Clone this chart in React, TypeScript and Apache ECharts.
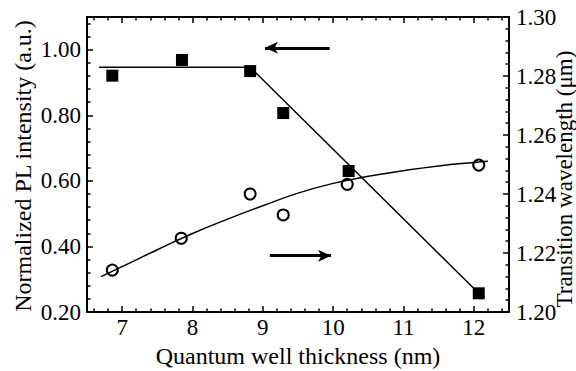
import React, { useEffect, useRef } from "react";
import * as echarts from "echarts";

// ---- data ----
const xTickLabels = [7, 8, 9, 10, 11, 12];
const leftTickLabels = [0.2, 0.4, 0.6, 0.8, 1.0];
const rightTickLabels = [1.2, 1.22, 1.24, 1.26, 1.28, 1.3];

// PL intensity (left axis) - filled squares
const squareX = [6.86, 7.85, 8.82, 9.29, 10.22, 12.07];
const squareY = [0.921, 0.969, 0.935, 0.807, 0.63, 0.257];
// piecewise fit for the squares
const squareFitX = [6.67, 8.82, 12.07];
const squareFitY = [0.947, 0.947, 0.257];

// transition wavelength (right axis) - open circles
const circleX = [6.86, 7.84, 8.82, 9.29, 10.2, 12.07];
const circleY = [1.2142, 1.225, 1.24, 1.2329, 1.2433, 1.2498];
// smooth fit curve for the circles
const circleFitX = [6.7, 7.0, 7.5, 8.0, 8.5, 9.0, 9.5, 10.0, 10.5, 11.0, 11.5, 12.0, 12.2];
const circleFitY = [1.212, 1.2154, 1.2211, 1.2266, 1.2315, 1.236, 1.2403, 1.2436, 1.246, 1.2479, 1.2495, 1.2507, 1.2511];

// arrows (data coordinates)
const leftArrow = { from: [9.95, 1.006], to: [9.03, 1.006] };
const rightArrow = { from: [9.1, 1.2191], to: [9.97, 1.2191] };

const X_MIN = 6.5, X_MAX = 12.5;
const L_MIN = 0.2, L_MAX = 1.1;
const R_MIN = 1.2, R_MAX = 1.3;

function steps(a: number, b: number, s: number, skip: number[]): number[] {
  const out: number[] = [];
  const n = Math.round((b - a) / s);
  for (let i = 0; i <= n; i++) {
    const v = +(a + i * s).toFixed(6);
    if (!skip.some((k) => Math.abs(k - v) < 1e-6)) out.push(v);
  }
  return out;
}

const FONT = "'Liberation Serif', 'Times New Roman', serif";

export default function App() {
  const ref = useRef<HTMLDivElement>(null);
  useEffect(() => {
    if (!ref.current) return;
    const chart = echarts.init(ref.current, null, { renderer: "svg" });
    const black = "#000";
    const xMinor = steps(6.6, 12.4, 0.2, xTickLabels);
    const lMinor = steps(0.24, 1.08, 0.04, leftTickLabels);
    const rMinor = steps(1.204, 1.296, 0.004, rightTickLabels);

    const majorTick = { show: true, inside: true, length: 6, lineStyle: { color: black, width: 1.5 } };
    const minorTick = { show: true, inside: true, length: 3.5, lineStyle: { color: black, width: 1.5 } };
    const line = { show: true, lineStyle: { color: black, width: 2 } };

    const xBase = { type: "value", min: X_MIN, max: X_MAX, splitLine: { show: false } };
    const lBase = { type: "value", min: L_MIN, max: L_MAX, splitLine: { show: false } };
    const rBase = { type: "value", min: R_MIN, max: R_MAX, splitLine: { show: false } };

    chart.setOption({
      animation: false,
      backgroundColor: "#fff",
      grid: { left: 87, right: 67, top: 17, bottom: 59, containLabel: false, outerBoundsMode: "none" },
      xAxis: [
        {
          ...xBase,
          position: "bottom",
          axisLine: line,
          axisTick: { ...majorTick, customValues: xTickLabels },
          axisLabel: {
            customValues: xTickLabels,
            formatter: (v: number) => String(v),
            color: black, fontFamily: FONT, fontSize: 23, margin: 4,
          },
          name: "Quantum well thickness (nm)",
          nameLocation: "middle",
          nameGap: 31,
          nameTextStyle: { color: black, fontFamily: FONT, fontSize: 24 },
        },
        {
          ...xBase,
          position: "bottom",
          axisLine: { show: false },
          axisTick: { ...minorTick, customValues: xMinor },
          axisLabel: { show: false },
        },
        {
          ...xBase,
          position: "top",
          axisLine: line,
          axisTick: { ...majorTick, customValues: xTickLabels },
          axisLabel: { show: false },
        },
        {
          ...xBase,
          position: "top",
          axisLine: { show: false },
          axisTick: { ...minorTick, customValues: xMinor },
          axisLabel: { show: false },
        },
      ],
      yAxis: [
        {
          ...lBase,
          position: "left",
          axisLine: line,
          axisTick: { ...majorTick, customValues: leftTickLabels },
          axisLabel: {
            customValues: leftTickLabels,
            formatter: (v: number) => v.toFixed(2),
            color: black, fontFamily: FONT, fontSize: 23, margin: 6,
          },
        },
        {
          ...rBase,
          position: "right",
          axisLine: line,
          axisTick: { ...majorTick, customValues: rightTickLabels },
          axisLabel: {
            customValues: rightTickLabels,
            formatter: (v: number) => v.toFixed(2),
            color: black, fontFamily: FONT, fontSize: 23, margin: 7,
          },
        },
        {
          ...lBase,
          position: "left",
          axisLine: { show: false },
          axisTick: { ...minorTick, customValues: lMinor },
          axisLabel: { show: false },
        },
        {
          ...rBase,
          position: "right",
          axisLine: { show: false },
          axisTick: { ...minorTick, customValues: rMinor },
          axisLabel: { show: false },
        },
      ],
      graphic: [
        {
          type: "text",
          x: 23,
          y: 166,
          rotation: Math.PI / 2,
          style: {
            text: "Normalized PL intensity (a.u.)",
            fill: black,
            font: `24px ${FONT}`,
            textAlign: "center",
            textVerticalAlign: "middle",
          },
        },
        {
          type: "text",
          x: 564.5,
          y: 179,
          rotation: Math.PI / 2,
          style: {
            text: "Transition wavelength (\u03bcm)",
            fill: black,
            font: `23px ${FONT}`,
            textAlign: "center",
            textVerticalAlign: "middle",
          },
        },
      ],
      series: [
        {
          type: "line",
          xAxisIndex: 0,
          yAxisIndex: 0,
          data: squareFitX.map((x, i) => [x, squareFitY[i]]),
          showSymbol: false,
          symbol: "none",
          lineStyle: { color: black, width: 1.5 },
          silent: true,
          markLine: {
            silent: true,
            animation: false,
            symbol: ["none", "arrow"],
            symbolSize: [9, 13],
            label: { show: false },
            lineStyle: { color: black, width: 3, type: "solid" },
            data: [[{ coord: leftArrow.from }, { coord: leftArrow.to }]],
          },
        },
        {
          type: "scatter",
          xAxisIndex: 0,
          yAxisIndex: 0,
          data: squareX.map((x, i) => [x, squareY[i]]),
          symbol: "rect",
          symbolSize: 12,
          itemStyle: { color: black, opacity: 1 },
        },
        {
          type: "line",
          xAxisIndex: 0,
          yAxisIndex: 1,
          data: circleFitX.map((x, i) => [x, circleFitY[i]]),
          smooth: true,
          showSymbol: false,
          symbol: "none",
          lineStyle: { color: black, width: 1.5 },
          silent: true,
          markLine: {
            silent: true,
            animation: false,
            symbol: ["none", "arrow"],
            symbolSize: [9, 13],
            label: { show: false },
            lineStyle: { color: black, width: 3, type: "solid" },
            data: [[{ coord: rightArrow.from }, { coord: rightArrow.to }]],
          },
        },
        {
          type: "scatter",
          xAxisIndex: 0,
          yAxisIndex: 1,
          data: circleX.map((x, i) => [x, circleY[i]]),
          symbol: "circle",
          symbolSize: 11,
          itemStyle: { color: "#fff", borderColor: black, borderWidth: 2, opacity: 1 },
        },
      ],
    });
    return () => chart.dispose();
  }, []);
  return <div ref={ref} style={{ width: 576, height: 371, position: "absolute", left: 0, top: 0 }} />;
}
